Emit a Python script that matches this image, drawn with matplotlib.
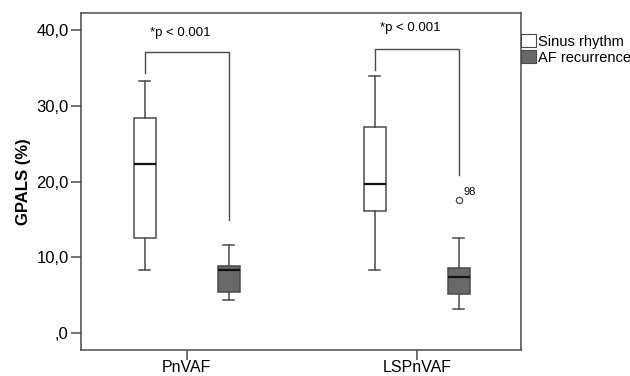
import matplotlib.pyplot as plt
from matplotlib.patches import Patch

plt.rcParams.update({
    'font.family': ['Liberation Sans', 'DejaVu Sans'],
    'font.size': 10,
})

# values
categories = ['PnVAF', 'LSPnVAF']
groups = ['Sinus rhythm', 'AF recurrence']
sinus_whislo = [8.3, 8.4]
sinus_q1 = [12.6, 16.1]
sinus_med = [22.25, 19.65]
sinus_q3 = [28.4, 27.2]
sinus_whishi = [33.3, 33.95]
af_whislo = [4.45, 3.15]
af_q1 = [5.45, 5.2]
af_med = [8.4, 7.4]
af_q3 = [8.85, 8.6]
af_whishi = [11.7, 12.5]
af_outliers = [[], [17.55]]
outlier_labels = [[], ['98']]
yticks = [0, 10, 20, 30, 40]
ytick_labels = [',0', '10,0', '20,0', '30,0', '40,0']
p_text = '*p < 0.001'
p_text_y = [39.6, 40.2]
bracket_top = [37.0, 37.4]
bracket_left_end = [34.25, 34.7]
bracket_right_end = [14.9, 20.8]

edge = '#4a4a4a'
fill_colors = ['white', '#696969']
offset = 0.183
width = 0.095

fig = plt.figure(figsize=(6.3, 3.76), dpi=100)
ax = fig.add_axes([0.1286, 0.069, 0.6984, 0.8964])

def make_stats(lo, q1, med, q3, hi, fl):
    return [dict(whislo=lo[i], q1=q1[i], med=med[i], q3=q3[i], whishi=hi[i], fliers=fl[i])
            for i in range(len(categories))]

sinus_stats = make_stats(sinus_whislo, sinus_q1, sinus_med, sinus_q3, sinus_whishi, [[], []])
af_stats = make_stats(af_whislo, af_q1, af_med, af_q3, af_whishi, af_outliers)

for k, stats in enumerate([sinus_stats, af_stats]):
    pos = [i + (2 * k - 1) * offset for i in range(len(categories))]
    ax.bxp(stats, positions=pos, widths=width, patch_artist=True, showfliers=True,
           boxprops=dict(facecolor=fill_colors[k], edgecolor=edge, linewidth=1.1),
           whiskerprops=dict(color=edge, linewidth=1.1),
           capprops=dict(color=edge, linewidth=1.1),
           medianprops=dict(color='#111111', linewidth=1.6),
           flierprops=dict(marker='o', markersize=4.5, markerfacecolor='white',
                           markeredgecolor=edge, markeredgewidth=0.9),
           capwidths=width / 2, manage_ticks=False)
    if k == 1:
        for i, labs in enumerate(outlier_labels):
            for v, lab in zip(af_outliers[i], labs):
                ax.text(pos[i] + 0.02, v + 0.4, lab, fontsize=8, ha='left', va='bottom')

# significance brackets
for i in range(len(categories)):
    xl, xr = i - offset, i + offset
    ax.plot([xl, xl, xr, xr],
            [bracket_left_end[i], bracket_top[i], bracket_top[i], bracket_right_end[i]],
            color=edge, linewidth=1.0)
    ax.text(i - 0.03, p_text_y[i], p_text, ha='center', va='center', fontsize=9.5)

ax.set_xlim(-0.46, 1.453)
ax.set_ylim(-2.2, 42.2)
ax.set_xticks(range(len(categories)), labels=categories, fontsize=11.5)
ax.set_yticks(yticks, labels=ytick_labels, fontsize=12)
ax.set_ylabel('GPALS (%)', fontsize=12, fontweight='bold', labelpad=4)
ax.tick_params(axis='both', direction='out', length=7, width=1.1, color=edge, pad=2)
ax.tick_params(axis='x', pad=0.5)
for s in ax.spines.values():
    s.set_color(edge)
    s.set_linewidth(1.1)

handles = [Patch(facecolor=c, edgecolor=edge, linewidth=0.8) for c in fill_colors]
fig.legend(handles, groups, loc='upper left', bbox_to_anchor=(0.818, 0.925),
           frameon=False, handlelength=1.0, handleheight=1.0, handletextpad=0.15,
           labelspacing=0.12, borderaxespad=0, fontsize=10.5)

fig.savefig('out.png', dpi=100)
